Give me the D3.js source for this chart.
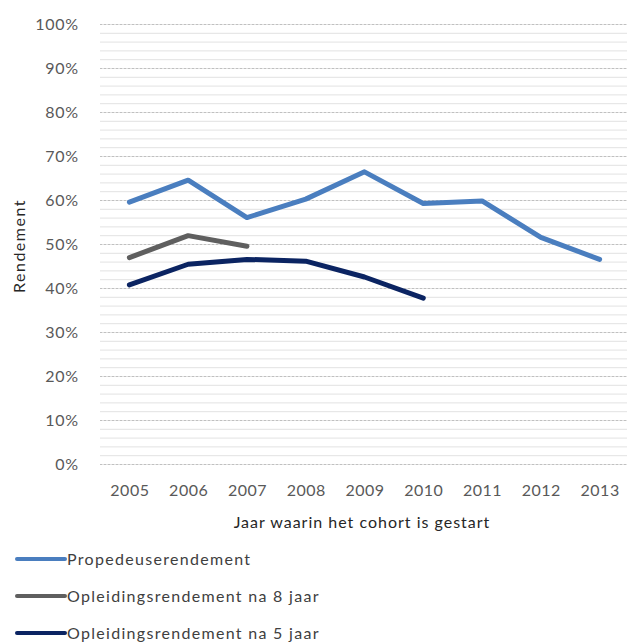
<!DOCTYPE html>
<html>
<head>
<meta charset="utf-8">
<script src="https://cdn.jsdelivr.net/npm/d3@7"></script>
<style>
  body { margin: 0; background: #fff; }
  text { font-family: Lato, "Open Sans", sans-serif; }
</style>
</head>
<body>
<svg id="chart"></svg>
<script>
var years = ["2005", "2006", "2007", "2008", "2009", "2010", "2011", "2012", "2013"];
var propedeuse = [0.595, 0.645, 0.56, 0.602, 0.664, 0.592, 0.598, 0.515, 0.465];
var opl8 = [0.469, 0.519, 0.495];
var opl5 = [0.407, 0.454, 0.465, 0.461, 0.425, 0.377];
var yTicks = [0, 0.1, 0.2, 0.3, 0.4, 0.5, 0.6, 0.7, 0.8, 0.9, 1];

var series = [
  {name: "Propedeuserendement", values: propedeuse, color: "#4a7ebf"},
  {name: "Opleidingsrendement na 8 jaar", values: opl8, color: "#5f5f5f"},
  {name: "Opleidingsrendement na 5 jaar", values: opl5, color: "#0b2462"}
];

var svg = d3.select("#chart")
    .attr("width", 627)
    .attr("height", 642);

var plot = {left: 100, right: 629, top: 24, bottom: 464};

var x = d3.scalePoint().domain(years).range([plot.left, plot.right]).padding(0.5);
var y = d3.scaleLinear().domain([0, 1]).range([plot.bottom, plot.top]);

// minor grid every 2%
svg.append("g")
    .attr("transform", "translate(" + plot.left + ",0)")
    .call(d3.axisRight(y).tickValues(d3.range(0, 1.001, 0.02)).tickSize(plot.right - plot.left).tickFormat(""))
    .call(function(g) {
      g.select(".domain").remove();
      g.selectAll("line").attr("stroke", "#e2e2e2").attr("stroke-width", 1);
    });

// major grid every 10%
svg.append("g")
    .attr("transform", "translate(" + plot.left + ",0)")
    .call(d3.axisRight(y).tickValues(yTicks).tickSize(plot.right - plot.left).tickFormat(""))
    .call(function(g) {
      g.select(".domain").remove();
      g.selectAll("line").attr("stroke", "#c0c0c0").attr("stroke-width", 1).attr("stroke-dasharray", "2,2");
    });

// y axis labels
svg.append("g")
    .attr("transform", "translate(" + (plot.left - 18) + ",0)")
    .call(d3.axisLeft(y).tickValues(yTicks).tickSize(0).tickFormat(d3.format(".0%")))
    .call(function(g) {
      g.select(".domain").remove();
      g.selectAll("text").attr("fill", "#595959").style("font-size", "16px").style("letter-spacing", "0.8px");
    });

// x axis labels
svg.append("g")
    .attr("transform", "translate(0," + (plot.bottom + 18) + ")")
    .call(d3.axisBottom(x).tickSize(0))
    .call(function(g) {
      g.select(".domain").remove();
      g.selectAll("text").attr("fill", "#595959").style("font-size", "16px").style("letter-spacing", "0.5px");
    });

svg.append("text")
    .attr("x", 362)
    .attr("y", 528)
    .attr("text-anchor", "middle")
    .style("font-size", "16px")
    .style("letter-spacing", "1px")
    .attr("fill", "#262626")
    .text("Jaar waarin het cohort is gestart");

svg.append("text")
    .attr("transform", "translate(25,246) rotate(-90)")
    .attr("text-anchor", "middle")
    .style("font-size", "16px")
    .style("letter-spacing", "1.5px")
    .attr("fill", "#262626")
    .text("Rendement");

var line = d3.line()
    .x(function(d, i) { return x(years[i]); })
    .y(function(d) { return y(d); });

svg.selectAll(".series")
  .data(series)
  .enter().append("path")
    .attr("class", "series")
    .attr("fill", "none")
    .attr("stroke", function(d) { return d.color; })
    .attr("stroke-width", 5)
    .attr("stroke-linejoin", "round")
    .attr("stroke-linecap", "round")
    .attr("d", function(d) { return line(d.values); });

var legend = svg.selectAll(".legend")
  .data(series)
  .enter().append("g")
    .attr("class", "legend")
    .attr("transform", function(d, i) { return "translate(17," + (559 + i * 37) + ")"; });

legend.append("line")
    .attr("x1", 0).attr("x2", 48)
    .attr("stroke", function(d) { return d.color; })
    .attr("stroke-width", 4)
    .attr("stroke-linecap", "round");

legend.append("text")
    .attr("x", 50)
    .attr("dy", "0.35em")
    .style("font-size", "16px")
    .style("letter-spacing", "1.3px")
    .attr("fill", "#404040")
    .text(function(d) { return d.name; });
</script>
</body>
</html>
